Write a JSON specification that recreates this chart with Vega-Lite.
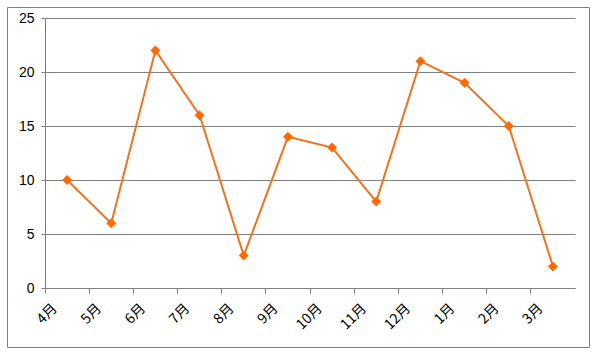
{
  "$schema": "https://vega.github.io/schema/vega-lite/v6.json",
  "autosize": "none",
  "width": 582,
  "height": 340,
  "padding": {"left": 7, "top": 7, "right": 5, "bottom": 12},
  "background": "white",
  "config": {
    "view": {"stroke": "#808080", "strokeWidth": 1},
    "font": "Liberation Sans"
  },
  "data": {
    "values": [
      {"month": "4月", "value": 10},
      {"month": "5月", "value": 6},
      {"month": "6月", "value": 22},
      {"month": "7月", "value": 16},
      {"month": "8月", "value": 3},
      {"month": "9月", "value": 14},
      {"month": "10月", "value": 13},
      {"month": "11月", "value": 8},
      {"month": "12月", "value": 21},
      {"month": "1月", "value": 19},
      {"month": "2月", "value": 15},
      {"month": "3月", "value": 2}
    ]
  },
  "encoding": {
    "x": {
      "field": "month",
      "type": "nominal",
      "sort": null,
      "scale": {"type": "band", "range": [38, 568], "paddingInner": 0, "paddingOuter": 0},
      "axis": {
        "title": null,
        "bandPosition": 0,
        "offset": -59,
        "labelAngle": -45,
        "labelAlign": "right",
        "labelBaseline": "middle",
        "labelOffset": -12,
        "labelFont": "Noto Sans CJK JP",
        "labelFontSize": 14,
        "labelColor": "#000000",
        "domainColor": "#808080",
        "tickColor": "#808080",
        "tickSize": 5,
        "labelPadding": 13,
        "grid": false
      }
    },
    "y": {
      "field": "value",
      "type": "quantitative",
      "scale": {"domain": [0, 25], "range": [281, 11], "nice": false, "zero": true},
      "axis": {
        "title": null,
        "values": [0, 5, 10, 15, 20, 25],
        "offset": -38,
        "labelFontSize": 14,
        "labelColor": "#000000",
        "domainColor": "#808080",
        "tickColor": "#808080",
        "tickSize": 4,
        "labelPadding": 7,
        "grid": true,
        "gridColor": "#808080",
        "gridOpacity": 1
      }
    }
  },
  "layer": [
    {
      "mark": {"type": "line", "color": "#EE7420", "strokeWidth": 2}
    },
    {
      "mark": {"type": "point", "shape": "diamond", "filled": true, "color": "#FF6A00", "opacity": 1, "size": 100}
    }
  ]
}
